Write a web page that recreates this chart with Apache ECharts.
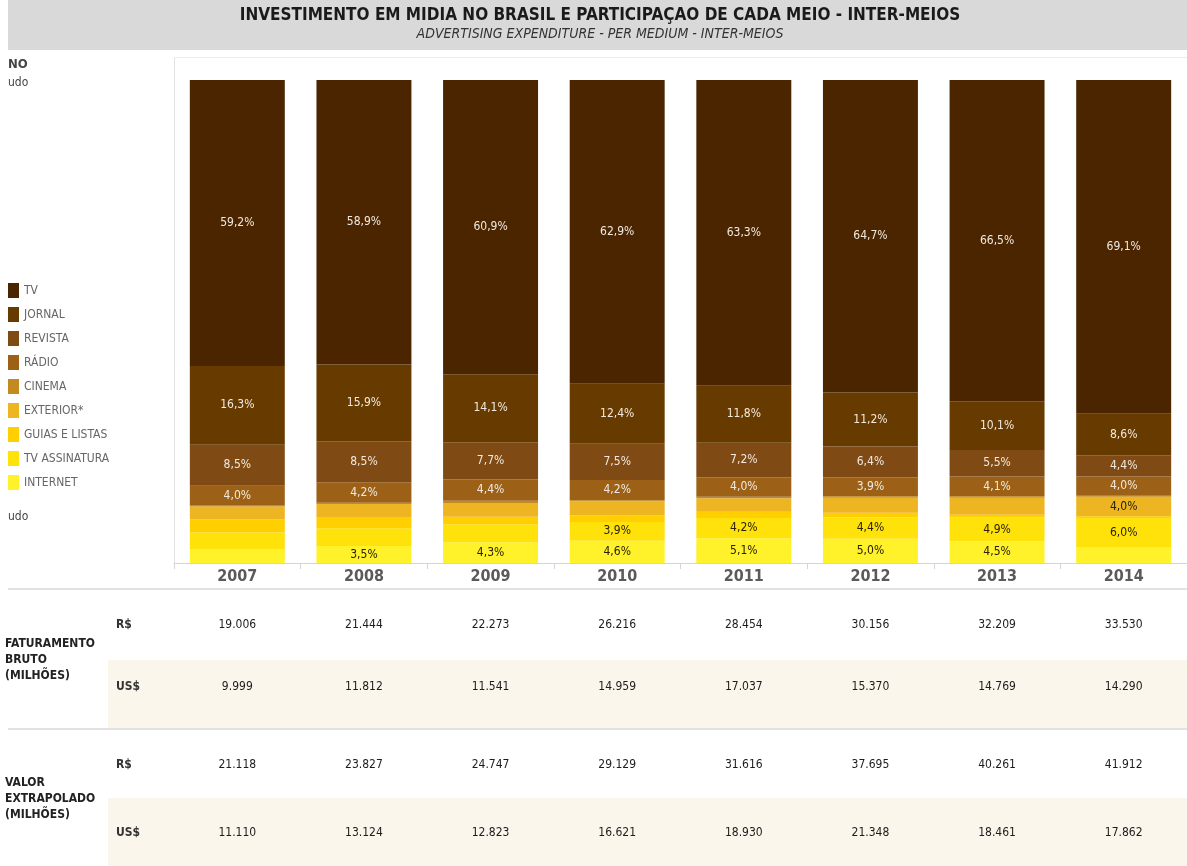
<!DOCTYPE html>
<html>
<head>
<meta charset="utf-8">
<script src="https://cdn.jsdelivr.net/npm/echarts@6/dist/echarts.min.js"></script>
<style>
  html, body { margin: 0; padding: 0; background: #ffffff; }
  #chart { width: 1187px; height: 866px; }
</style>
</head>
<body>
<div id="chart"></div>
<script>
const FONT = '"DejaVu Sans Condensed", "DejaVu Sans", sans-serif'

const years = ['2007', '2008', '2009', '2010', '2011', '2012', '2013', '2014']

// participação de cada meio (%)
const tv = [59.2, 58.9, 60.9, 62.9, 63.3, 64.7, 66.5, 69.1]
const jornal = [16.3, 15.9, 14.1, 12.4, 11.8, 11.2, 10.1, 8.6]
const revista = [8.5, 8.5, 7.7, 7.5, 7.2, 6.4, 5.5, 4.4]
const radio = [4.0, 4.2, 4.4, 4.2, 4.0, 3.9, 4.1, 4.0]
const cinema = [0.3, 0.3, 0.5, 0.2, 0.3, 0.3, 0.3, 0.2]
const exterior = [2.7, 2.7, 2.8, 2.9, 2.8, 3.1, 3.5, 4.0]
const guias = [2.7, 2.3, 1.6, 1.4, 1.3, 1.0, 0.6, 0.4]
const tvAssinatura = [3.4, 3.7, 3.7, 3.9, 4.2, 4.4, 4.9, 6.0]
const internet = [2.9, 3.5, 4.3, 4.6, 5.1, 5.0, 4.5, 3.3]

// which small segments carry a label in the original
const exteriorLabelled = [0, 0, 0, 0, 0, 0, 0, 1]
const tvAssinaturaLabelled = [0, 0, 0, 1, 1, 1, 1, 1]
const internetLabelled = [0, 1, 1, 1, 1, 1, 1, 0]

// tabela (milhões)
const fatBrutoRS = [19006, 21444, 22273, 26216, 28454, 30156, 32209, 33530]
const fatBrutoUS = [9999, 11812, 11541, 14959, 17037, 15370, 14769, 14290]
const extrapRS = [21118, 23827, 24747, 29129, 31616, 37695, 40261, 41912]
const extrapUS = [11110, 13124, 12823, 16621, 18930, 21348, 18461, 17862]

const fmtPct = (v) => v.toFixed(1).replace('.', ',') + '%'
const fmtNum = (n) => String(n).replace(/\B(?=(\d{3})+(?!\d))/g, '.')

const LIGHT = '#f1e9df'
const DARK = '#2b2100'

const makeSeries = (name, values, color, labelMask, labelColor) => ({
  name,
  type: 'bar',
  stack: 'meios',
  barWidth: '75%',
  itemStyle: { color },
  emphasis: { disabled: true },
  label: {
    show: labelMask !== false,
    position: 'inside',
    color: labelColor,
    fontFamily: FONT,
    fontSize: 12,
    formatter: (p) => fmtPct(p.value),
  },
  data: values.map((v, i) => {
    if (Array.isArray(labelMask) && !labelMask[i]) {
      return { value: v, label: { show: false } }
    }
    return v
  }),
})

const tableAxis = (values, offset) => ({
  type: 'category',
  data: values.map(fmtNum),
  position: 'bottom',
  offset,
  axisLine: { show: false },
  axisTick: { show: false },
  axisLabel: {
    interval: 0,
    margin: 0,
    color: '#1c1c1c',
    fontFamily: FONT,
    fontSize: 12,
  },
})

const chart = echarts.init(document.getElementById('chart'))

const legendNames = ['TV', 'JORNAL', 'REVISTA', 'RÁDIO', 'CINEMA', 'EXTERIOR*', 'GUIAS E LISTAS', 'TV ASSINATURA', 'INTERNET']

const textEl = (text, x, y, font, fill, align) => ({
  type: 'text',
  x,
  y,
  style: {
    text,
    font,
    fill,
    align: align || 'left',
    textAlign: align || 'left',
    verticalAlign: 'middle',
    textVerticalAlign: 'middle',
  },
})

chart.setOption({
  animation: false,
  backgroundColor: '#ffffff',
  grid: { left: 174, top: 80, width: 1024, height: 483 },
  legend: {
    data: legendNames,
    orient: 'vertical',
    left: 8,
    top: 283,
    padding: 0,
    itemWidth: 11,
    itemHeight: 15,
    itemGap: 9,
    icon: 'rect',
    selectedMode: false,
    textStyle: { color: '#666666', fontFamily: FONT, fontSize: 12 },
  },
  xAxis: [
    {
      type: 'category',
      data: years,
      axisLine: { lineStyle: { color: '#d4d4d4' } },
      axisTick: { show: true, length: 6, lineStyle: { color: '#d4d4d4' } },
      axisLabel: {
        interval: 0,
        margin: 6,
        color: '#5a5a5a',
        fontFamily: FONT,
        fontWeight: 'bold',
        fontSize: 16,
      },
    },
    tableAxis(fatBrutoRS, 56),
    tableAxis(fatBrutoUS, 118),
    tableAxis(extrapRS, 196),
    tableAxis(extrapUS, 264),
  ],
  yAxis: { type: 'value', min: 0, max: 100, show: false },
  series: [
    makeSeries('INTERNET', internet, '#fff22a', internetLabelled, DARK),
    makeSeries('TV ASSINATURA', tvAssinatura, '#ffe20a', tvAssinaturaLabelled, DARK),
    makeSeries('GUIAS E LISTAS', guias, '#ffcf00', false, DARK),
    makeSeries('EXTERIOR*', exterior, '#edb521', exteriorLabelled, DARK),
    makeSeries('CINEMA', cinema, '#c38b1f', false, LIGHT),
    makeSeries('RÁDIO', radio, '#9c6117', undefined, LIGHT),
    makeSeries('REVISTA', revista, '#7f4a13', undefined, LIGHT),
    makeSeries('JORNAL', jornal, '#673b00', undefined, LIGHT),
    makeSeries('TV', tv, '#4a2500', undefined, LIGHT),
  ],
  graphic: [
    { type: 'rect', z: -10, shape: { x: 8, y: 0, width: 1179, height: 50 }, style: { fill: '#d9d9d9' } },
    textEl('INVESTIMENTO EM MIDIA NO BRASIL E PARTICIPAÇAO DE CADA MEIO - INTER-MEIOS', 600, 16, 'bold 17px ' + FONT, '#1a1a1a', 'center'),
    textEl('ADVERTISING EXPENDITURE - PER MEDIUM - INTER-MEIOS', 600, 34, 'italic 14px ' + FONT, '#333333', 'center'),
    { type: 'line', z: -5, shape: { x1: 174.5, y1: 57, x2: 174.5, y2: 563 }, style: { stroke: '#e2e2e2', lineWidth: 1 } },
    { type: 'line', z: -5, shape: { x1: 174, y1: 57.5, x2: 1187, y2: 57.5 }, style: { stroke: '#ececec', lineWidth: 1 } },
    textEl('NO', 8, 65, 'bold 13px ' + FONT, '#444444'),
    textEl('udo', 8, 83, '12px ' + FONT, '#444444'),
    textEl('udo', 8, 517, '12px ' + FONT, '#444444'),
    { type: 'rect', z: -10, shape: { x: 108, y: 660, width: 1079, height: 68 }, style: { fill: '#fbf6ec' } },
    { type: 'rect', z: -10, shape: { x: 108, y: 798, width: 1079, height: 68 }, style: { fill: '#fbf6ec' } },
    { type: 'line', z: -5, shape: { x1: 8, y1: 589, x2: 1187, y2: 589 }, style: { stroke: '#e2e2e2', lineWidth: 2 } },
    { type: 'line', z: -5, shape: { x1: 8, y1: 729, x2: 1187, y2: 729 }, style: { stroke: '#e2e2e2', lineWidth: 2 } },
    textEl('FATURAMENTO', 5, 644, 'bold 12px ' + FONT, '#222222'),
    textEl('BRUTO', 5, 660, 'bold 12px ' + FONT, '#222222'),
    textEl('(MILHÕES)', 5, 676, 'bold 12px ' + FONT, '#222222'),
    textEl('VALOR', 5, 783, 'bold 12px ' + FONT, '#222222'),
    textEl('EXTRAPOLADO', 5, 799, 'bold 12px ' + FONT, '#222222'),
    textEl('(MILHÕES)', 5, 815, 'bold 12px ' + FONT, '#222222'),
    textEl('R$', 116, 625, 'bold 12px ' + FONT, '#333333'),
    textEl('US$', 116, 687, 'bold 12px ' + FONT, '#333333'),
    textEl('R$', 116, 765, 'bold 12px ' + FONT, '#333333'),
    textEl('US$', 116, 833, 'bold 12px ' + FONT, '#333333'),
  ],
})
</script>
</body>
</html>
